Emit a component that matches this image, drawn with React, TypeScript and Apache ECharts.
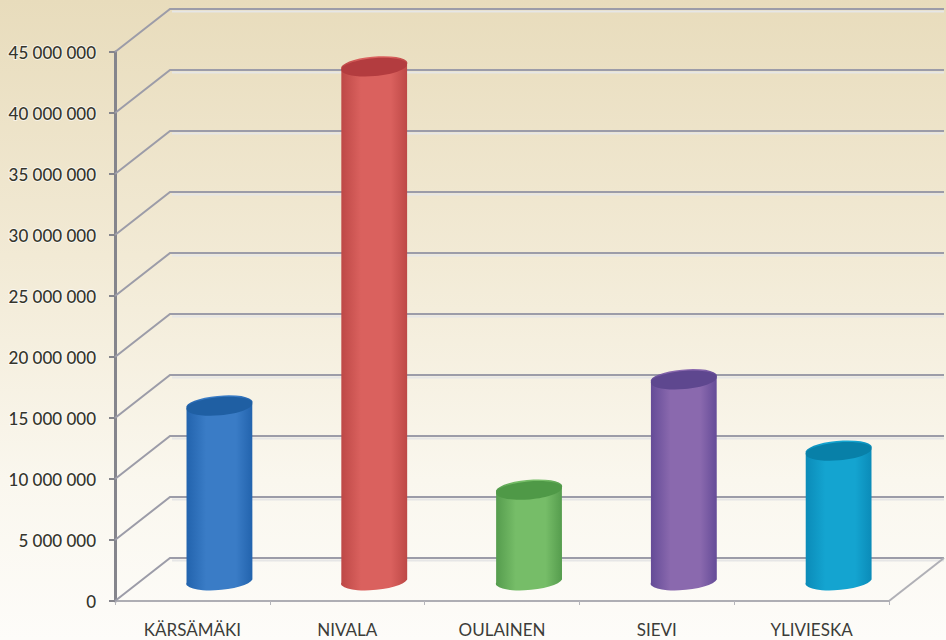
import React, { useEffect, useRef } from "react";
import * as echarts from "echarts";

const categories = ["KÄRSÄMÄKI", "NIVALA", "OULAINEN", "SIEVI", "YLIVIESKA"];
const values = [14200000, 42000000, 7300000, 16350000, 10500000];
const tickValues = [0, 5000000, 10000000, 15000000, 20000000, 25000000, 30000000, 35000000, 40000000, 45000000];
const tickLabels = ["0", "5 000 000", "10 000 000", "15 000 000", "20 000 000", "25 000 000", "30 000 000", "35 000 000", "40 000 000", "45 000 000"];
const edgeColors = ["#2263ad", "#bd4846", "#559c4d", "#644b97", "#0b8bb8"];
const centerColors = ["#3a7cc6", "#da615e", "#76bd68", "#8a69ae", "#14a4d0"];
const topColors = ["#1f5fa3", "#b33c3f", "#4f9947", "#5e478f", "#0880a8"];

const DEPTH_X = 55;
const DEPTH_Y = 43;
const GRID_COLOR = "#9c9ca8";

const renderGrid = (params: any, api: any) => {
  const v = api.value(1);
  const band = api.size([1, 0])[0];
  const p = api.coord([0, v]);
  const x0 = p[0] - band / 2;
  const y = p[1];
  const xb = x0 + DEPTH_X;
  const yb = y - DEPTH_Y;
  const xEnd = x0 + band * categories.length + DEPTH_X;
  const children: any[] = [
    {
      type: "polyline",
      shape: { points: [[xb + 2, yb + 2.5], [xEnd, yb + 2.5]] },
      style: { stroke: "#e6e6e6", lineWidth: 2, fill: "none" },
    },
    {
      type: "polyline",
      shape: { points: [[x0, y], [xb, yb], [xEnd, yb]] },
      style: { stroke: GRID_COLOR, lineWidth: 2, fill: "none" },
    },
  ];
  if (v === 0) {
    children.push({
      type: "line",
      shape: { x1: x0 + band * categories.length, y1: y, x2: xEnd, y2: yb },
      style: { stroke: "#b0b0b6", lineWidth: 2 },
    });
  }
  return { type: "group", children };
};

const renderCylinder = (params: any, api: any) => {
  const i = api.value(0);
  const top = api.coord([i, api.value(1)]);
  const base = api.coord([i, 0]);
  const cx = top[0] + 27;
  const topY = top[1] - DEPTH_Y / 2;
  const baseY = base[1] - DEPTH_Y / 2;
  const rx = 33;
  const ry = 9;
  const tilt = 5;
  const rad = (tilt * Math.PI) / 180;
  const dx = rx * Math.cos(rad);
  const dy = rx * Math.sin(rad);
  const d =
    `M ${cx - dx} ${topY + dy} L ${cx - dx} ${baseY + dy} ` +
    `A ${rx} ${ry} ${-tilt} 0 0 ${cx + dx} ${baseY - dy} ` +
    `L ${cx + dx} ${topY - dy} ` +
    `A ${rx} ${ry} ${-tilt} 0 0 ${cx - dx} ${topY + dy} Z`;
  return {
    type: "group",
    children: [
      {
        type: "path",
        shape: { pathData: d },
        style: {
          fill: new echarts.graphic.LinearGradient(0, 0, 1, 0, [
            { offset: 0, color: edgeColors[i] },
            { offset: 0.3, color: centerColors[i] },
            { offset: 0.75, color: centerColors[i] },
            { offset: 1, color: edgeColors[i] },
          ]),
        },
      },
      {
        type: "ellipse",
        x: cx,
        y: topY,
        rotation: rad,
        shape: { cx: 0, cy: 0, rx, ry },
        style: { fill: topColors[i] },
      },
    ],
  };
};

export default function App() {
  const ref = useRef<HTMLDivElement>(null);
  useEffect(() => {
    const chart = echarts.init(ref.current!, null, { renderer: "svg" });
    chart.setOption({
      animation: false,
      backgroundColor: new echarts.graphic.LinearGradient(0, 0, 0, 1, [
        { offset: 0, color: "#e8dcbc" },
        { offset: 0.4, color: "#f2ead5" },
        { offset: 0.75, color: "#faf7ee" },
        { offset: 1, color: "#fdfcf9" },
      ]),
      grid: { left: 115, right: 57, top: 52, bottom: 39 },
      xAxis: {
        type: "category",
        data: categories,
        axisLine: { lineStyle: { color: "#aeaeb4", width: 2 } },
        axisTick: { show: true, length: 4, lineStyle: { color: "#b5b5ba" } },
        axisLabel: { color: "#3c3c38", fontFamily: "Lato", fontSize: 17, margin: 20 },
      },
      yAxis: {
        type: "value",
        min: 0,
        max: 45000000,
        interval: 5000000,
        splitLine: { show: false },
        axisLine: { show: true, lineStyle: { color: "#85858c", width: 3 } },
        axisTick: { show: true, length: 6, lineStyle: { color: "#85858c", width: 2 } },
        axisLabel: {
          color: "#35352c",
          fontFamily: "Lato",
          fontSize: 17,
          fontWeight: 500,
          margin: 19,
          textBorderColor: "rgba(255,255,255,0.6)",
          textBorderWidth: 2,
          formatter: (v: number) => tickLabels[tickValues.indexOf(v)],
        },
      },
      series: [
        {
          type: "custom",
          name: "grid",
          z: 2,
          silent: true,
          renderItem: renderGrid,
          encode: { x: 0, y: 1 },
          data: tickValues.map((v) => [0, v]),
        },
        {
          type: "custom",
          name: "values",
          z: 3,
          renderItem: renderCylinder,
          encode: { x: 0, y: 1 },
          data: values.map((v, i) => [i, v]),
        },
      ],
    });
    return () => chart.dispose();
  }, []);
  return <div ref={ref} style={{ position: "absolute", left: 0, top: 0, width: 946, height: 640 }} />;
}
